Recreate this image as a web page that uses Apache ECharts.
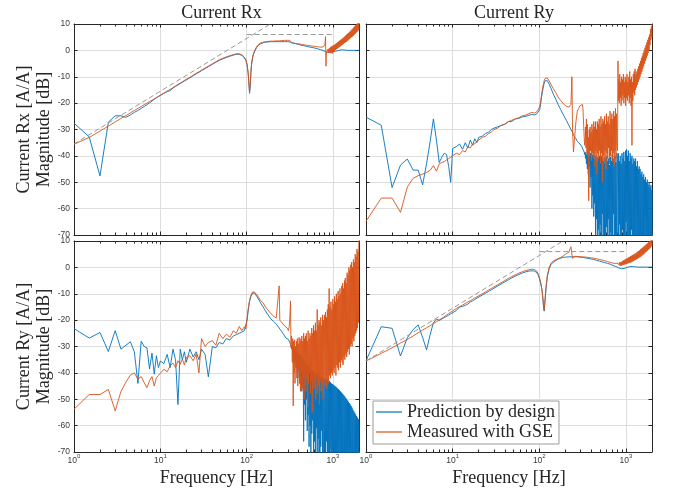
<!DOCTYPE html>
<html>
<head>
<meta charset="utf-8">
<script src="https://cdn.jsdelivr.net/npm/echarts@6/dist/echarts.min.js"></script>
<style>
  html, body { margin: 0; padding: 0; background: #fff; }
  #chart { width: 673px; height: 494px; }
</style>
</head>
<body>
<div id="chart"></div>
<script>
// Frequency grids [Hz]
// FFT bins at low frequency
const fLow = [1, 1.5, 2, 2.5, 3, 3.5, 4, 4.5, 5, 5.5, 6, 6.5, 7, 7.5, 8, 8.5, 9, 9.5, 10];
// mid band, around the resonances
const fMid = [
  11, 12, 13, 14, 15, 16, 17, 18, 19, 20,
  22, 24, 26, 28, 30, 33, 36, 40, 44, 48,
  53, 58, 64, 70, 76, 82, 88, 94, 98, 101,
  104, 106, 108, 110, 112, 114, 117, 120, 124, 130,
  137, 145, 155, 165, 177, 190, 205, 220, 232, 238,
  242, 248, 256, 265, 275, 285, 295
];
// high band, coarse (smooth responses)
const fHighA = [
  300, 308, 315, 323, 331, 340, 348, 357, 366, 375,
  384, 394, 404, 414, 424, 435, 445, 457, 468, 480,
  492, 504, 517, 530, 543, 556, 570, 585, 599, 614,
  629, 645, 661, 678, 695, 712, 730, 748, 767, 786
];
const fHighB = [
  806, 826, 847, 868, 889, 912, 934, 958, 982, 1006,
  1031, 1057, 1084, 1111, 1139, 1167, 1196, 1226, 1257, 1288,
  1320, 1353, 1387, 1422, 1457, 1494, 1531, 1570, 1609, 1649,
  1690, 1732, 1776, 1820, 1866, 1912, 1960, 2000
];
// high band, fine (noisy measurements)
const fDenseA = [
  300, 304, 307, 311, 315, 319, 322, 326, 330, 334,
  338, 342, 346, 350, 355, 359, 363, 368, 372, 377,
  381, 386, 391, 395, 400, 405, 410, 415, 420, 425,
  430, 435, 441, 446, 451, 457, 462, 468, 474, 479,
  485, 491, 497, 503, 509, 515, 521, 528, 534, 541,
  547, 554, 561, 567, 574, 581, 588, 595, 603, 610,
  617, 625, 632, 640, 648, 656, 664, 672, 680, 688,
  696, 705, 713, 722, 731, 740, 749, 758, 767, 776,
  786
];
const fDenseB = [
  800, 810, 819, 829, 839, 849, 860, 870, 881, 891,
  902, 913, 924, 935, 946, 958, 969, 981, 993, 1005,
  1017, 1029, 1042, 1054, 1067, 1080, 1093, 1106, 1119, 1133,
  1146, 1160, 1174, 1188, 1203, 1217, 1232, 1247, 1262, 1277,
  1292, 1308, 1324, 1340, 1356, 1372, 1389, 1405, 1422, 1440,
  1457, 1475, 1492, 1510, 1529, 1547, 1566, 1585, 1604, 1623,
  1643, 1663, 1683, 1703, 1724, 1745, 1766, 1787, 1809, 1830,
  1852, 1875, 1897, 1920, 1943, 1967, 1990, 2000
];
const fSmooth = fLow.concat(fMid, fHighA, fHighB);
const fSplit = fLow.concat(fMid, fHighA, fDenseB);
const fNoisy = fLow.concat(fMid, fDenseA, fDenseB);

// Magnitudes [dB] — output Rx, input Rx
const rxRxPred = [
  -27.6, -32.8, -47.6, -27.2, -24.8, -24.8, -25.4, -24.5, -23.5, -22.8,
  -22, -21.3, -20.6, -19.9, -19.2, -18.6, -18, -17.5, -17,
  -16.3, -15.6, -15.3, -14.3, -13.7, -13.1, -12.6, -12.1, -11.6, -11.2,
  -10.4, -9.6, -8.9, -8.3, -7.7, -6.9, -6.2, -5.3, -4.5, -3.8,
  -3.2, -2.7, -2.2, -1.8, -1.5, -1.5, -1.9, -2.8, -3.8, -5.4,
  -8.7, -12.3, -16.3, -13.4, -8.4, -5.4, -2.9, -1.5, -0.3, 1.0,
  1.9, 2.5, 2.9, 3.1, 3.2, 3.3, 3.3, 3.3, 3.3, 3.3,
  3.3, 3.3, 3.3, 3.3, 3.3, 3.3, 3.3,
  3.3, 3.3, 3.2, 3.1, 3.0, 2.9, 2.8, 2.7, 2.6, 2.5,
  2.4, 2.3, 2.2, 2.1, 2.0, 1.9, 1.9, 1.8, 1.7, 1.6,
  1.5, 1.5, 1.4, 1.3, 1.2, 1.2, 1.1, 1.0, 1.0, 0.9,
  0.8, 0.7, 0.6, 0.5, 0.4, 0.3, 0.2, 0.1, 0, -0.2,
  -0.4, -0.6, -0.7, -0.7, -0.7, -0.7, -0.6, -0.5, -0.5, -0.4,
  -0.4, -0.3, -0.3, -0.2, -0.1, 0, 0.1, 0.1, 0.2, 0.2,
  0.2, 0.2, 0.1, 0.1, 0.1, 0, 0, 0, 0, 0,
  0, 0, 0, 0, 0, 0, 0, 0
];
const rxRxMeas = [
  -35.6, -33, -30.6, -28.7, -27.1, -25.8, -24.7, -23.7, -22.8, -22,
  -21.3, -20.6, -20, -19.4, -18.9, -18.4, -17.9, -17.4, -17,
  -16.2, -15.4, -14.8, -14.1, -13.5, -12.9, -12.4, -11.9, -11.4, -11,
  -10.2, -9.4, -8.7, -8.1, -7.5, -6.7, -6, -5.1, -4.3, -3.6,
  -3, -2.5, -2, -1.6, -1.3, -1.3, -1.7, -2.6, -3.6, -5.2,
  -8.5, -12, -16, -13, -8, -5, -2.6, -1.2, 0, 1.3,
  2.2, 2.8, 3.1, 3.3, 3.4, 3.5, 3.5, 3.6, 3.6, 3.6,
  3.7, 3.7, 3.7, 3.7, 3.8, 3.8, 3.8,
  3.8, 3.8, 3.8, 3.2, 2.8, 2.8, 2.7, 2.7, 2.6, 2.6,
  2.5, 2.5, 2.4, 2.4, 2.3, 2.3, 2.2, 2.2, 2.1, 2.0,
  2.0, 1.9, 1.9, 1.8, 1.8, 1.7, 1.7, 1.6, 1.6, 1.5,
  1.5, 1.4, 1.4, 1.3, 1.3, 1.2, 1.2, 1.2, 1.3, 1.5,
  1.8, 3.0, 5.2, -6, -0.6, -0.2, -1.0, 0.4, -0.8, 0.6,
  -1.0, 0.8, -0.9, 1.2, -1.1, 1.4, -0.8, 1.6, -1.2, 1.9,
  -0.6, 2.0, -0.2, 2.3, 0.2, 2.5, 0.4, 2.8, 0.6, 3.1,
  0.9, 3.3, 1.2, 3.6, 1.4, 3.9, 1.7, 4.2, 2.0, 4.4,
  2.2, 4.7, 2.5, 5.0, 2.8, 5.3, 3.0, 5.6, 3.2, 6.0,
  3.5, 6.3, 3.8, 6.6, 4.1, 6.9, 4.4, 7.2, 4.7, 7.6,
  5.0, 8.0, 5.3, 8.3, 5.6, 8.7, 6.0, 9.1, 6.3, 9.5,
  6.7, 9.9, 7.0, 10.4, 7.4, 10.8, 7.8, 11
];

// Output Rx, input Ry
const ryRxPred = [
  -25.3, -28.4, -52, -43.5, -41.2, -45.4, -45.4, -51, -43, -34.5,
  -26, -34, -42.5, -40.5, -39, -39.5, -44, -50, -37.2,
  -36.5, -35.5, -37.5, -35, -37, -34, -36, -33.5, -35, -33,
  -32.5, -31.5, -31, -30, -29.5, -29, -28.5, -28, -27, -27,
  -26, -25.8, -25.2, -25, -24.6, -24.3, -24.5, -24, -24.5, -22.5,
  -20, -18, -16.3, -14.8, -13.5, -12.5, -11.5, -11, -11.5, -12.8,
  -14.5, -16.5, -18.5, -20.5, -22.5, -24.5, -26.5, -28.5, -30, -30.5,
  -31, -32, -32.5, -33.5, -34.5, -35, -35.5,
  -35.5, -35.8, -36.2, -36.6, -37, -37.3, -37.8, -38.2, -38.6, -39.5,
  -38.5, -41, -39, -43, -39.5, -45, -38.8, -47, -39.5, -44,
  -40, -52, -39, -48, -41, -60, -39.5, -55, -40.5, -63,
  -40, -58, -41.5, -70, -40, -64, -42, -75, -40.5, -68,
  -41, -78, -40, -66, -42.5, -73, -40, -82, -41.5, -62,
  -42, -76, -40.5, -70, -43, -85, -41, -67, -40, -79,
  -42, -64, -41, -88, -43.5, -72, -40.5, -69, -42, -80,
  -39.5, -74, -41, -62, -43, -86, -40, -71, -42.5, -77,
  -39,
  -41, -70, -39, -82, -42, -66, -40, -76, -43, -90,
  -39, -68, -41, -80, -38.5, -73, -42, -86, -38, -65,
  -37.5, -78, -40, -70, -38, -88, -42, -74, -39, -82,
  -41, -68, -40, -90, -43, -76, -41, -84, -42, -72,
  -41, -80, -44, -70, -42, -92, -45, -77, -44, -85,
  -45, -73, -47, -88, -46, -80, -48, -95, -47, -76,
  -49, -84, -48, -74, -50, -92, -49, -82, -51, -78,
  -50, -90, -52, -80, -51, -96, -53, -85
];
const ryRxMeas = [
  -64.8, -56, -56, -61.4, -51.8, -48.5, -47.5, -46.9, -46.3, -45.5,
  -43.7, -45.8, -43, -42.5, -42.2, -41.5, -41, -40.5, -40,
  -39, -39.5, -38, -38.5, -36.5, -37, -35.5, -35.5, -34.5, -34.5,
  -33, -32.5, -31.5, -31, -30, -29.5, -28.5, -28, -27, -26.5,
  -26, -25.5, -24.8, -24.5, -24, -23.5, -23.8, -23.2, -23.8, -21.5,
  -19, -17, -15.3, -13.8, -12.5, -11.5, -10.6, -10.1, -10.5, -11.6,
  -13, -14.5, -16, -17.7, -19, -20.3, -21.2, -21.5, -20.5, -10,
  -30, -38.5, -33, -27, -23, -22, -21,
  -21, -20.6, -20.3, -20.2, -20.5, -22, -25, -29, -33, -36,
  -35, -29, -37, -26, -39, -28, -40, -33, -57, -30,
  -40, -29, -38, -31, -42, -28, -39, -30, -41, -27,
  -40, -29, -44, -27, -38, -30, -47, -27, -39, -28,
  -41, -26, -38, -29, -43, -25, -39, -28, -50, -26,
  -40, -27, -42, -25, -38, -28, -45, -24, -39, -27,
  -41, -25, -37, -28, -43, -23, -40, -26, -38, -24,
  -42, -26, -39, -23, -44, -25, -38, -22, -41, -24,
  -36,
  -38, -4, -19, -11, -20, -9, -18, -12, -21, -10,
  -19, -11, -17, -9, -20, -12, -18, -10, -21, -11,
  -18, -9, -19, -12, -17, -10, -20, -8, -18, -11,
  -21, -10, -36, -12, -19, -9, -16, -8, -17, -7,
  -15, -9, -14, -8, -13, -7, -12, -6, -11, -5,
  -10, -4, -9, -3, -8, -2, -7, -1, -6, 0,
  -5, 1, -4, 2, -3, 3, -2, 4, -1, 5,
  0, 6, 2, 8, 4, 9, 5, 10
];

// Output Ry, input Rx
const rxRyPred = [
  -23.2, -26.8, -24.7, -31.9, -24, -31, -29.5, -28.2, -32, -44,
  -28, -30, -30.5, -38.5, -32.5, -40.5, -33.5, -38, -35.5,
  -36.5, -33, -38, -31, -35, -52, -31, -35, -32, -36,
  -31, -34, -32, -35, -31, -33, -41.5, -30, -30.5, -28.5,
  -29, -27, -27.5, -26, -25.5, -25, -24.5, -24, -23.5, -20,
  -16.5, -14.5, -13, -12, -11, -10.3, -9.8, -9.6, -9.8, -10.8,
  -12, -13.5, -15, -16.5, -18, -19.5, -20.5, -21.5, -22.5, -23,
  -23.2, -23.8, -24.5, -25.2, -26, -26.8, -27.5,
  -27, -27.3, -27.7, -28, -28.4, -28.8, -29.2, -29.7, -30, -31,
  -29.6, -32, -30, -34, -30.4, -36, -31, -35, -31.5, -38,
  -32, -40, -32.4, -37, -33, -42, -32.8, -44, -33.5, -41,
  -34, -47, -34.5, -45, -35, -66, -35.2, -52, -36, -58,
  -36.5, -50, -37, -62, -37.4, -56, -38, -68, -37.6, -60,
  -38.4, -72, -38.8, -63, -39, -58, -39.6, -75, -39.4, -66,
  -40, -70, -40.2, -61, -40.6, -78, -40.8, -65, -41, -73,
  -41.2, -82, -41.4, -68, -41.6, -62, -42, -77, -41.8, -85,
  -42.2,
  -70, -42.4, -74, -42, -66, -42.6, -80, -42.8, -72, -43,
  -88, -43.2, -69, -43.6, -79, -44, -73, -44.2, -90, -44.5,
  -76, -44.8, -84, -45, -71, -45.3, -82, -45.6, -78, -46,
  -92, -46.2, -75, -46.6, -86, -47, -80, -47.4, -94, -47.8,
  -79, -48.2, -88, -48.6, -76, -49, -90, -49.5, -82, -50,
  -95, -50.5, -84, -51, -88, -51.5, -92, -52, -80, -52.6,
  -96, -53.2, -86, -54, -90, -54.6, -98, -55.2, -84, -55.8,
  -92, -56.4, -95, -57, -88, -57.6, -100, -58
];
const rxRyMeas = [
  -53.8, -48.2, -48.2, -46.3, -54.4, -47, -43.5, -40.8, -40, -42.4,
  -41.4, -43.7, -45.6, -43, -41.4, -45, -41.8, -41, -40.5,
  -38.6, -39.6, -37.3, -36.3, -38, -35.4, -36.7, -34.8, -37, -34.2,
  -33.5, -35.4, -32.9, -40, -27, -30, -28.5, -27.8, -29.5, -25,
  -27, -25.3, -26.5, -24, -25, -22.4, -24, -22.5, -23.4, -19.6,
  -16, -14, -12.5, -11.5, -10.6, -9.9, -9.3, -9.1, -9.4, -10.2,
  -11.3, -12.5, -13.5, -15, -16.2, -17.5, -18.5, -19.2, -19.8, -7,
  -20, -20.5, -21, -21.5, -22.2, -22.8, -23,
  -23.5, -24, -23.5, -22.5, -20, -16, -12.7, -30.4, -26, -29,
  -36, -27, -52.5, -28, -40, -27.5, -44, -30, -38, -28,
  -42, -27, -45, -29, -39, -26.5, -44, -28, -47, -27,
  -40, -26, -46, -28, -42, -25, -50, -27, -41, -26,
  -47, -25, -42, -28, -53, -24, -44, -27, -40, -25,
  -48, -26, -43, -23, -55, -25, -41, -22, -46, -24,
  -44, -21, -50, -24, -42, -16, -48, -22, -45, -20,
  -52, -21, -43, -19, -47, -22, -44, -18, -50, -20,
  -43,
  -18, -45, -17, -42, -19, -46, -16, -43, -14, -44,
  -8, -41, -15, -42, -13, -40, -16, -41, -12, -39,
  -14, -40, -11, -38, -13, -41, -10, -37, -12, -38,
  -9, -39, -11, -36, -8, -38, -10, -35, -7, -36,
  -6, -37, -8, -34, -5, -35, -4, -33, -6, -34,
  -2, -32, -3, -31, 0, -33, -1, -30, 1, -29,
  2, -30, 0, -27, 3, -28, 2, -26, 5, -25,
  4, -24, 7, -23, 6, -21, 9, 11
];

// Output Ry, input Ry
const ryRyPred = [
  -35.4, -22.5, -23.1, -33.6, -26.7, -23.6, -21.8, -26.5, -31.3, -25.5,
  -21, -19.6, -20.1, -19.6, -19, -18.6, -18.1, -17.6, -17.2,
  -16.4, -15, -14.8, -14.4, -13.9, -13.1, -12.7, -12.2, -11.7, -11.3,
  -10.5, -9.8, -9.1, -8.5, -7.9, -7.1, -6.4, -5.5, -4.7, -4,
  -3.3, -2.7, -2.1, -1.7, -1.4, -1.3, -1.4, -2, -3.2, -4.6,
  -6.2, -7.6, -9.4, -12, -15, -16.6, -12, -7.5, -3.5, -0.5,
  1.1, 2, 2.6, 3.1, 3.5, 3.8, 3.9, 4, 4, 4,
  4, 4, 4, 4, 4, 3.9, 3.9,
  3.9, 3.8, 3.8, 3.7, 3.7, 3.6, 3.6, 3.5, 3.4, 3.4,
  3.3, 3.2, 3.2, 3.1, 3.0, 2.9, 2.8, 2.7, 2.6, 2.5,
  2.4, 2.3, 2.2, 2.1, 2.0, 1.9, 1.8, 1.7, 1.6, 1.5,
  1.4, 1.3, 1.2, 1.0, 0.9, 0.7, 0.6, 0.4, 0.3, 0.1,
  0, -0.2, -0.3, -0.4, -0.5, -0.5, -0.5, -0.4, -0.3, -0.1,
  0, 0.1, 0.2, 0.3, 0.3, 0.3, 0.3, 0.3, 0.2, 0.2,
  0.1, 0.1, 0.1, 0.1, 0.1, 0.1, 0.1, 0.1, 0.1, 0.1,
  0.1, 0.1, 0.1, 0.1, 0.1, 0.1, 0.1, 0.1
];
const ryRyMeas = [
  -35.5, -32.6, -30.5, -28.7, -27.3, -26, -24.8, -23.8, -22.9, -22.1,
  -21.3, -20.6, -19.9, -19.3, -18.7, -18.1, -17.5, -17, -16.4,
  -15.6, -14.9, -14.3, -13.7, -13.1, -12.6, -12.1, -11.6, -11.2, -10.8,
  -10, -9.3, -8.6, -8, -7.4, -6.6, -5.9, -5, -4.2, -3.5,
  -2.8, -2.2, -1.6, -1.2, -0.9, -0.7, -0.8, -1.5, -2.8, -4.2,
  -5.8, -7.2, -9, -11.5, -14.5, -16.2, -11.5, -7, -3, 0,
  1.6, 2.4, 2.9, 3.3, 3.8, 4.4, 5.2, 5.8, 7.8, 5,
  3.4, 3.1, 4.2, 4.2, 4.1, 4.1, 4.0,
  4.0, 4.0, 4.0, 3.9, 3.9, 3.9, 3.8, 3.8, 3.8, 3.7,
  3.7, 3.6, 3.6, 3.5, 3.5, 3.4, 3.3, 3.3, 3.2, 3.1,
  3.0, 3.0, 2.9, 2.8, 2.7, 2.6, 2.5, 2.4, 2.3, 2.2,
  2.1, 2.0, 1.9, 1.8, 1.7, 1.6, 1.6, 1.5, 1.5, 1.4,
  1.3, 1.6, 1.0, 1.8, 0.8, 2.0, 0.7, 1.9, 0.6, 2.1,
  0.8, 2.3, 0.9, 2.6, 1.0, 2.8, 1.1, 3.0, 1.2, 3.2,
  1.3, 3.4, 1.5, 3.6, 1.6, 3.8, 1.7, 4.0, 1.8, 4.2,
  1.9, 4.4, 2.1, 4.6, 2.3, 4.8, 2.5, 5.0, 2.7, 5.2,
  2.9, 5.4, 3.1, 5.7, 3.3, 6.0, 3.5, 6.2, 3.7, 6.5,
  3.9, 6.8, 4.1, 7.1, 4.4, 7.4, 4.7, 7.7, 5.0, 8.0,
  5.3, 8.3, 5.7, 8.6, 6.0, 8.9, 6.3, 9.2, 6.6, 9.5,
  6.9, 9.8, 7.3, 10.2, 7.7, 10.6, 8.2, 11
];

// Asymptotes on the diagonal terms: +20 dB/decade slope and high-frequency plateau
const slopeFreq = [1, 188];
const slopeDb = [-35.5, 10];
const plateauFreq = [100, 1000];
const plateauDb = [6, 6];

// Axis ticks
const majorTicks = [1, 10, 100, 1000];
const majorExp = ['0', '1', '2', '3'];
const minorTicks = [2, 3, 4, 5, 6, 7, 8, 9, 20, 30, 40, 50, 60, 70, 80, 90,
  200, 300, 400, 500, 600, 700, 800, 900];
const yMin = -70, yMax = 10, yStep = 10;

const colTitles = ['Current Rx', 'Current Ry'];
const rowNames = ['Current Rx [A/A]\nMagnitude [dB]', 'Current Ry [A/A]\nMagnitude [dB]'];
const seriesNames = ['Prediction by design', 'Measured with GSE'];

const BLUE = '#0072BD', ORANGE = '#D95319';
const SERIF = "'Liberation Serif', 'DejaVu Serif', serif";
const SANS = "'Liberation Sans', 'DejaVu Sans', sans-serif";
const AXIS = '#262626', GRIDC = '#dedede', TICKTXT = '#3a3a3a';

const panels = [
  { fPred: fSmooth, pred: rxRxPred, fMeas: fSplit, meas: rxRxMeas, asym: true },
  { fPred: fNoisy, pred: ryRxPred, fMeas: fNoisy, meas: ryRxMeas, asym: false },
  { fPred: fNoisy, pred: rxRyPred, fMeas: fNoisy, meas: rxRyMeas, asym: false },
  { fPred: fSmooth, pred: ryRyPred, fMeas: fSplit, meas: ryRyMeas, asym: true }
];
const grids = [
  { left: 74, top: 24, width: 285, height: 211 },
  { left: 366, top: 24, width: 286, height: 211 },
  { left: 74, top: 241, width: 285, height: 211 },
  { left: 366, top: 241, width: 286, height: 211 }
];

const pairs = (fs, vs) => fs.map((f, i) => [f, vs[i]]);

const xAxes = [], yAxes = [], series = [];
grids.forEach((g, i) => {
  const bottomRow = i >= 2, leftCol = i % 2 === 0;
  const logBase = { type: 'log', logBase: 10, min: 1, max: 2000, gridIndex: i };
  // main axis: decade ticks, labels, vertical grid lines
  xAxes.push(Object.assign({}, logBase, {
    position: 'bottom',
    axisLine: { show: true, onZero: false, lineStyle: { color: AXIS, width: 1 } },
    axisTick: { show: true, inside: true, length: 3.5, customValues: majorTicks, lineStyle: { color: AXIS } },
    axisLabel: {
      show: bottomRow, customValues: majorTicks, margin: 1,
      formatter: v => '{b|10}{s|' + majorExp[majorTicks.indexOf(Math.round(v))] + '}',
      rich: {
        b: { fontSize: 8.5, fontFamily: SANS, color: TICKTXT, lineHeight: 12, verticalAlign: 'bottom' },
        s: { fontSize: 6, fontFamily: SANS, color: TICKTXT, lineHeight: 12, verticalAlign: 'top' }
      }
    },
    splitLine: { show: true, lineStyle: { color: GRIDC, width: 1 } },
    name: bottomRow ? 'Frequency [Hz]' : '',
    nameLocation: 'middle', nameGap: 17,
    nameTextStyle: { fontFamily: SERIF, fontSize: 18, color: AXIS }
  }));
  // top edge of the box with decade ticks
  xAxes.push(Object.assign({}, logBase, {
    position: 'top',
    axisLine: { show: true, onZero: false, lineStyle: { color: AXIS, width: 1 } },
    axisTick: { show: true, inside: true, length: 3.5, customValues: majorTicks, lineStyle: { color: AXIS } },
    axisLabel: { show: false }, splitLine: { show: false }
  }));
  // minor ticks, bottom and top edges
  ['top', 'bottom'].forEach(pos => {
    xAxes.push(Object.assign({}, logBase, {
      position: pos,
      axisLine: { show: false, onZero: false },
      axisTick: { show: true, inside: true, length: 2.5, customValues: minorTicks, lineStyle: { color: AXIS } },
      axisLabel: { show: false }, splitLine: { show: false }
    }));
  });

  yAxes.push({
    type: 'value', gridIndex: i, min: yMin, max: yMax, interval: yStep, position: 'left',
    axisLine: { show: true, onZero: false, lineStyle: { color: AXIS, width: 1 } },
    axisTick: { show: true, inside: true, length: 3.5, lineStyle: { color: AXIS } },
    axisLabel: { show: leftCol, fontSize: 8.5, fontFamily: SANS, color: TICKTXT, margin: 4 },
    splitLine: { show: true, showMinLine: false, showMaxLine: false, lineStyle: { color: GRIDC, width: 1 } },
    name: leftCol ? rowNames[Math.floor(i / 2)] : '',
    nameLocation: 'middle', nameRotate: 90, nameGap: 13,
    nameTextStyle: { fontFamily: SERIF, fontSize: 18, lineHeight: 20, color: AXIS }
  });
  yAxes.push({
    type: 'value', gridIndex: i, min: yMin, max: yMax, interval: yStep, position: 'right',
    axisLine: { show: true, onZero: false, lineStyle: { color: AXIS, width: 1 } },
    axisTick: { show: true, inside: true, length: 3.5, lineStyle: { color: AXIS } },
    axisLabel: { show: false }, splitLine: { show: false }
  });

  const p = panels[i];
  const common = {
    type: 'line', xAxisIndex: i * 4, yAxisIndex: i * 2, showSymbol: false, symbol: 'none',
    silent: true, animation: false, emphasis: { disabled: true }
  };
  series.push(Object.assign({}, common, {
    name: seriesNames[0], data: pairs(p.fPred, p.pred),
    lineStyle: { color: BLUE, width: 0.9 }, itemStyle: { color: BLUE }, z: 2
  }));
  series.push(Object.assign({}, common, {
    name: seriesNames[1], data: pairs(p.fMeas, p.meas),
    lineStyle: { color: ORANGE, width: 0.9 }, itemStyle: { color: ORANGE }, z: 3
  }));
  if (p.asym) {
    [[slopeFreq, slopeDb], [plateauFreq, plateauDb]].forEach(([fs, ds]) => {
      series.push(Object.assign({}, common, {
        name: 'asymptote', data: pairs(fs, ds),
        lineStyle: { color: '#8c8c8c', width: 0.9, type: [5, 3] }, z: 4
      }));
    });
  }
});

const chart = echarts.init(document.getElementById('chart'), null, { renderer: 'canvas' });
chart.setOption({
  backgroundColor: '#fff',
  animation: false,
  title: colTitles.map((t, c) => ({
    text: t, left: c === 0 ? 216.5 : 509, top: -1, textAlign: 'center',
    textStyle: { fontFamily: SERIF, fontSize: 18, fontWeight: 'normal', color: AXIS }
  })),
  legend: {
    data: seriesNames, orient: 'vertical', left: 373, top: 401,
    icon: 'rect', itemWidth: 26, itemHeight: 1.2, itemGap: 2,
    padding: [2, 4, 3, 3], backgroundColor: '#fff', borderColor: '#9b9b9b', borderWidth: 1,
    selectedMode: false,
    textStyle: { fontFamily: SERIF, fontSize: 18, color: AXIS }
  },
  grid: grids.map(g => Object.assign({ containLabel: false, outerBoundsMode: 'none' }, g)),
  xAxis: xAxes,
  yAxis: yAxes,
  series: series
});
</script>
</body>
</html>
